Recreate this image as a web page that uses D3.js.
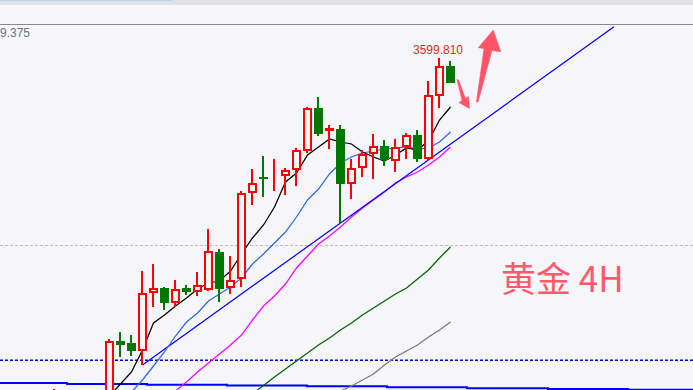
<!DOCTYPE html>
<html>
<head>
<meta charset="utf-8">
<script src="https://cdn.jsdelivr.net/npm/d3@7"></script>
<style>
  html, body { margin: 0; padding: 0; background: #f5f5fa; overflow: hidden; }
  svg { display: block; }
</style>
</head>
<body>
<svg id="chart" width="693" height="390"></svg>
<script>
// ---- XAUUSD H4 bars (bar index 0 = first full bar on screen) ----
const barIndex = [-5, 0, 1, 2, 3, 4, 5, 6, 7, 8, 9, 10, 11, 12, 13, 14, 15, 16, 17, 18, 19, 20, 21, 22, 23, 24, 25, 26, 27, 28, 29, 30, 31];
const openPx  = [3385.0, 3394.4, 3429.8, 3428.6, 3423.8, 3458.6, 3461.6, 3452.6, 3461.6, 3459.2, 3460.4, 3483.2, 3461.6, 3467.0, 3518.6, 3528.2, 3527.6, 3528.8, 3532.4, 3543.8, 3569.6, 3555.8, 3557.0, 3524.0, 3533.6, 3542.0, 3546.8, 3537.8, 3546.2, 3553.4, 3539.0, 3576.8, 3594.8];
const highPx  = [3401.0, 3431.0, 3435.2, 3433.4, 3471.8, 3476.0, 3462.2, 3466.4, 3463.4, 3471.2, 3497.0, 3485.0, 3480.8, 3519.8, 3533.0, 3540.8, 3539.0, 3533.6, 3545.6, 3570.2, 3576.2, 3559.4, 3559.4, 3539.0, 3544.4, 3554.0, 3550.4, 3551.0, 3554.6, 3556.4, 3585.8, 3599.81, 3597.8];
const lowPx   = [3378.0, 3388.4, 3420.2, 3420.8, 3415.4, 3450.2, 3448.4, 3450.2, 3457.4, 3456.8, 3459.8, 3453.2, 3458.0, 3462.2, 3511.4, 3516.2, 3519.8, 3517.4, 3522.8, 3542.6, 3552.8, 3545.0, 3500.6, 3515.0, 3528.2, 3527.0, 3534.8, 3531.2, 3539.0, 3537.2, 3538.6, 3569.6, 3584.6];
const closePx = [3396.0, 3429.8, 3427.4, 3423.8, 3458.6, 3461.6, 3452.6, 3461.0, 3459.2, 3463.4, 3483.8, 3461.0, 3466.4, 3518.6, 3524.6, 3527.0, 3528.8, 3532.4, 3544.4, 3569.6, 3554.0, 3557.6, 3524.0, 3533.6, 3542.0, 3546.8, 3538.4, 3546.2, 3553.4, 3539.0, 3577.4, 3594.8, 3584.6];

// ---- moving averages (first bar index + values) ----
const maFastStart = 0;
const maFast = [3396.8, 3404.0, 3411.2, 3424.4, 3440.6, 3445.4, 3450.8, 3455.6, 3461.0, 3464.6, 3465.8, 3471.8, 3482.0, 3491.6, 3499.4, 3510.2, 3525.2, 3530.6, 3541.4, 3546.2, 3551.0, 3549.2, 3548.0, 3543.2, 3540.2, 3537.8, 3541.4, 3545.6, 3544.4, 3549.8, 3562.4, 3570.2];
const maMidStart = 1;
const maMid = [3391.4, 3399.2, 3406.4, 3414.8, 3423.2, 3432.8, 3441.2, 3446.6, 3453.8, 3458.0, 3462.2, 3467.6, 3476.0, 3482.0, 3488.6, 3495.2, 3504.2, 3514.4, 3521.0, 3530.0, 3536.6, 3540.2, 3542.6, 3543.8, 3545.0, 3545.6, 3546.2, 3545.0, 3545.6, 3549.2, 3555.2];
const maSlowStart = 5;
const maSlow = [3394.4, 3399.8, 3405.2, 3411.2, 3416.6, 3422.0, 3427.4, 3433.4, 3442.4, 3450.8, 3456.8, 3464.0, 3473.6, 3480.8, 3488.0, 3492.8, 3498.2, 3504.2, 3509.6, 3514.4, 3519.2, 3524.6, 3528.2, 3531.2, 3535.4, 3540.2, 3546.2];
const ma100Start = 13;
const ma100 = [3398.0, 3403.1, 3408.2, 3413.0, 3417.8, 3422.6, 3427.4, 3431.6, 3436.4, 3440.6, 3445.4, 3449.6, 3453.8, 3458.0, 3461.6, 3467.0, 3472.4, 3479.6, 3486.2];
const ma200Start = 20;
const ma200 = [3396.8, 3399.8, 3402.8, 3406.4, 3410.0, 3415.4, 3420.2, 3423.8, 3427.4, 3432.2, 3436.4, 3441.2];

// higher-timeframe average, drawn as steps (bar positions of each step edge)
const htfEdges  = [-12, -3.86, 3.41, 10.68, 17.95, 25.23, 32.5, 39.86, 47.14, 56];
const htfValues = [3404.6, 3404.0, 3403.6, 3403.1, 3402.6, 3402.1, 3401.5, 3401.0, 3400.5];

// rising trendline through two swing lows
const trendPoints = [[3, 3415.4], [45.86, 3618.3]];

// horizontal levels
const levelSupport = 3418.2;
const levelMid = 3487.2;

// annotation arrows, [bar, price] vertices
const arrowDown = [[31.59, 3586.7], [31.73, 3586.4], [32.36, 3575.3], [32.64, 3576.5], [32.73, 3569.3], [31.77, 3572.9], [32.05, 3574.1]];
const arrowUp = [[33.36, 3573.2], [34.05, 3605.3], [33.53, 3605.8], [34.89, 3616.4], [35.56, 3603.4], [34.77, 3604.1], [33.5, 3573.2]];

const titleText = "黄金 4H";
const cornerLabel = "9.375";
const highBar = 30;

// ---- drawing ----
const W = 693, H = 390;
const bg = "#f5f5fa";
const svg = d3.select("#chart");

const x = d3.scaleLinear().domain([0, 31]).range([109.5, 450.5]);
const y = d3.scaleLinear().domain([3380, 3620]).range([424, 24]);

svg.append("rect").attr("width", W).attr("height", H).attr("fill", bg);

// window header strip
svg.append("rect").attr("x", 0).attr("y", 0).attr("width", W).attr("height", 5).attr("fill", "#dfe1e6");
svg.append("rect").attr("x", 0).attr("y", 0).attr("width", 173).attr("height", 1).attr("fill", "#bcd2ee");
svg.append("line").attr("x1", 0).attr("x2", W).attr("y1", 24.5).attr("y2", 24.5)
  .attr("stroke", "#8a8a8a").attr("stroke-width", 1);

svg.append("text").attr("x", 0).attr("y", 37).text(cornerLabel)
  .attr("font-family", "'Liberation Sans', Arial, sans-serif").attr("font-size", 12)
  .attr("fill", "#6e737c");

// horizontal levels
svg.append("line").attr("x1", 0).attr("x2", W)
  .attr("y1", Math.round(y(levelMid)) + 0.5).attr("y2", Math.round(y(levelMid)) + 0.5)
  .attr("stroke", "#c0c0c4").attr("stroke-width", 1).attr("stroke-dasharray", "3,2");
svg.append("line").attr("x1", 0).attr("x2", W)
  .attr("y1", y(levelSupport)).attr("y2", y(levelSupport))
  .attr("stroke", "#0000c8").attr("stroke-width", 1.5).attr("stroke-dasharray", "3,2");

// step line
const htfPts = htfValues.map((v, k) => [htfEdges[k], v]);
htfPts.push([htfEdges[htfEdges.length - 1], htfValues[htfValues.length - 1]]);
svg.append("path")
  .attr("d", d3.line().x(d => x(d[0])).y(d => y(d[1])).curve(d3.curveStepAfter)(htfPts))
  .attr("fill", "none").attr("stroke", "#0000ff").attr("stroke-width", 2);

// moving averages
const maLine = d3.line().x(d => x(d[0])).y(d => y(d[1]));
function drawMA(start, vals, color) {
  const pts = vals.map((v, k) => [start + k, v]);
  svg.append("path").attr("d", maLine(pts))
    .attr("fill", "none").attr("stroke", color).attr("stroke-width", 1.25);
}
drawMA(ma200Start, ma200, "#7a7a7a");
drawMA(ma100Start, ma100, "#006400");
drawMA(maSlowStart, maSlow, "#ff00ff");

// trendline
svg.append("line")
  .attr("x1", x(trendPoints[0][0])).attr("y1", y(trendPoints[0][1]))
  .attr("x2", x(trendPoints[1][0])).attr("y2", y(trendPoints[1][1]))
  .attr("stroke", "#0000ff").attr("stroke-width", 1.2);

drawMA(maMidStart, maMid, "#2f6ae6");
drawMA(maFastStart, maFast, "#000000");

// candles
const bars = barIndex.map((b, k) => ({ b, o: openPx[k], h: highPx[k], l: lowPx[k], c: closePx[k] }));
const up = "#ff0000", down = "#007800";
const g = svg.append("g").attr("shape-rendering", "crispEdges");
bars.forEach(d => {
  const cx = x(d.b);
  const bull = d.c >= d.o;
  const col = bull ? up : down;
  g.append("line").attr("x1", cx - 0.5).attr("x2", cx - 0.5)
    .attr("y1", y(d.h)).attr("y2", y(d.l))
    .attr("stroke", col).attr("stroke-width", 2);
  const top = y(Math.max(d.o, d.c)), bot = y(Math.min(d.o, d.c));
  if (bull) {
    g.append("rect").attr("x", cx - 3.5).attr("width", 7)
      .attr("y", top + 1).attr("height", Math.max(0, bot - top - 2))
      .attr("fill", bg).attr("stroke", up).attr("stroke-width", 2);
  } else {
    g.append("rect").attr("x", cx - 4.5).attr("width", 9)
      .attr("y", top).attr("height", Math.max(1.5, bot - top))
      .attr("fill", down);
  }
});

// high price label
const hb = bars.find(d => d.b === highBar);
svg.append("text").attr("x", x(hb.b) - 1.5).attr("y", y(hb.h) - 3.5)
  .attr("text-anchor", "middle").text(hb.h.toFixed(3))
  .attr("font-family", "'Liberation Sans', Arial, sans-serif").attr("font-size", 12)
  .attr("fill", "#e8261a");

// arrows
const poly = pts => "M" + pts.map(p => x(p[0]) + "," + y(p[1])).join("L") + "Z";
[arrowDown, arrowUp].forEach(a => {
  svg.append("path").attr("d", poly(a)).attr("fill", "#ff5468").attr("stroke", "#ff5468")
    .attr("stroke-width", 0.6).attr("stroke-linejoin", "round");
});

// title
svg.append("text").attr("x", 501).attr("y", 292).text(titleText)
  .attr("font-family", "'Noto Sans CJK SC', 'Noto Sans', sans-serif").attr("font-size", 35)
  .attr("fill", "#ff5a6b");
</script>
</body>
</html>
